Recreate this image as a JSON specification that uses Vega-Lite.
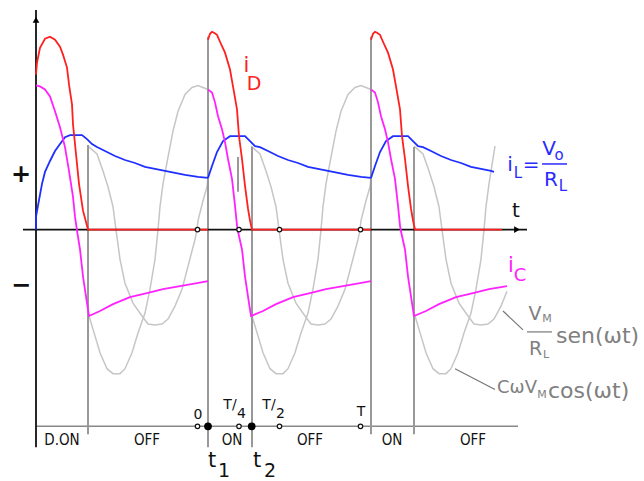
{
  "$schema": "https://vega.github.io/schema/vega-lite/v6.json",
  "width": 644,
  "height": 481,
  "padding": 0,
  "autosize": {"type": "fit", "contains": "padding"},
  "background": "white",
  "config": {"view": {"stroke": null}, "font": "DejaVu Sans", "text": {"font": "DejaVu Sans"}},
  "datasets": {
    "gray": [
      {"s":"sin1","t":52,"i":84},{"s":"sin1","t":61,"i":76},{"s":"sin1","t":67,"i":59},{"s":"sin1","t":72,"i":43},{"s":"sin1","t":77,"i":23},{"s":"sin1","t":80,"i":0},{"s":"sin1","t":84,"i":-30},{"s":"sin1","t":89,"i":-54},{"s":"sin1","t":97,"i":-74},{"s":"sin1","t":106,"i":-87},{"s":"sin1","t":112,"i":-95},{"s":"sin1","t":119,"i":-96},{"s":"sin1","t":126,"i":-95},{"s":"sin1","t":132,"i":-90},{"s":"sin1","t":139,"i":-77},{"s":"sin1","t":146,"i":-60},{"s":"sin1","t":152,"i":-37},{"s":"sin1","t":159,"i":-10},{"s":"sin1","t":161,"i":0},{"s":"sin1","t":162,"i":9},{"s":"sin1","t":167,"i":29},{"s":"sin1","t":171,"i":43},{"s":"sin1","t":172,"i":52},
      {"s":"sin2","t":215,"i":84},{"s":"sin2","t":224,"i":76},{"s":"sin2","t":230,"i":59},{"s":"sin2","t":235,"i":43},{"s":"sin2","t":240,"i":23},{"s":"sin2","t":243,"i":0},{"s":"sin2","t":247,"i":-30},{"s":"sin2","t":252,"i":-54},{"s":"sin2","t":260,"i":-74},{"s":"sin2","t":269,"i":-87},{"s":"sin2","t":275,"i":-95},{"s":"sin2","t":282,"i":-96},{"s":"sin2","t":289,"i":-95},{"s":"sin2","t":295,"i":-90},{"s":"sin2","t":302,"i":-77},{"s":"sin2","t":309,"i":-60},{"s":"sin2","t":315,"i":-37},{"s":"sin2","t":322,"i":-10},{"s":"sin2","t":324,"i":0},{"s":"sin2","t":325,"i":9},{"s":"sin2","t":330,"i":29},{"s":"sin2","t":334,"i":43},{"s":"sin2","t":335,"i":52},
      {"s":"sin3","t":378,"i":84},{"s":"sin3","t":387,"i":76},{"s":"sin3","t":393,"i":59},{"s":"sin3","t":398,"i":43},{"s":"sin3","t":403,"i":23},{"s":"sin3","t":406,"i":0},{"s":"sin3","t":410,"i":-30},{"s":"sin3","t":415,"i":-54},{"s":"sin3","t":423,"i":-74},{"s":"sin3","t":432,"i":-87},{"s":"sin3","t":438,"i":-95},{"s":"sin3","t":445,"i":-96},{"s":"sin3","t":452,"i":-95},{"s":"sin3","t":458,"i":-90},{"s":"sin3","t":465,"i":-77},{"s":"sin3","t":471,"i":-62},
      {"s":"cos1","t":53,"i":-87},{"s":"cos1","t":59,"i":-107},{"s":"cos1","t":64,"i":-124},{"s":"cos1","t":71,"i":-140},{"s":"cos1","t":77,"i":-145},{"s":"cos1","t":84,"i":-145},{"s":"cos1","t":89,"i":-140},{"s":"cos1","t":96,"i":-124},{"s":"cos1","t":102,"i":-104},{"s":"cos1","t":109,"i":-84},{"s":"cos1","t":114,"i":-60},{"s":"cos1","t":119,"i":-30},{"s":"cos1","t":122,"i":0},{"s":"cos1","t":124,"i":23},{"s":"cos1","t":127,"i":46},{"s":"cos1","t":132,"i":73},{"s":"cos1","t":137,"i":99},{"s":"cos1","t":142,"i":119},{"s":"cos1","t":149,"i":136},{"s":"cos1","t":156,"i":143},{"s":"cos1","t":162,"i":145},{"s":"cos1","t":167,"i":143},{"s":"cos1","t":172,"i":141},
      {"s":"cos2","t":216,"i":-87},{"s":"cos2","t":222,"i":-107},{"s":"cos2","t":227,"i":-124},{"s":"cos2","t":234,"i":-140},{"s":"cos2","t":240,"i":-145},{"s":"cos2","t":247,"i":-145},{"s":"cos2","t":252,"i":-140},{"s":"cos2","t":259,"i":-124},{"s":"cos2","t":265,"i":-104},{"s":"cos2","t":272,"i":-84},{"s":"cos2","t":277,"i":-60},{"s":"cos2","t":282,"i":-30},{"s":"cos2","t":285,"i":0},{"s":"cos2","t":287,"i":23},{"s":"cos2","t":290,"i":46},{"s":"cos2","t":295,"i":73},{"s":"cos2","t":300,"i":99},{"s":"cos2","t":305,"i":119},{"s":"cos2","t":312,"i":136},{"s":"cos2","t":319,"i":143},{"s":"cos2","t":325,"i":145},{"s":"cos2","t":330,"i":143},{"s":"cos2","t":335,"i":141},
      {"s":"cos3","t":379,"i":-87},{"s":"cos3","t":385,"i":-107},{"s":"cos3","t":390,"i":-124},{"s":"cos3","t":397,"i":-140},{"s":"cos3","t":403,"i":-145},{"s":"cos3","t":410,"i":-145},{"s":"cos3","t":415,"i":-140},{"s":"cos3","t":422,"i":-124},{"s":"cos3","t":428,"i":-104},{"s":"cos3","t":435,"i":-84},{"s":"cos3","t":440,"i":-60},{"s":"cos3","t":445,"i":-30},{"s":"cos3","t":448,"i":0},{"s":"cos3","t":450,"i":23},{"s":"cos3","t":453,"i":46},{"s":"cos3","t":459,"i":84}
    ],
    "red": [
      {"s":"r1","t":0,"i":156},{"s":"r1","t":1,"i":168},{"s":"r1","t":4,"i":183},{"s":"r1","t":9,"i":192},{"s":"r1","t":14,"i":194},{"s":"r1","t":19,"i":191},{"s":"r1","t":24,"i":184},{"s":"r1","t":27,"i":176},{"s":"r1","t":31,"i":163},{"s":"r1","t":33,"i":146},{"s":"r1","t":36,"i":126},{"s":"r1","t":37,"i":106},{"s":"r1","t":40,"i":76},{"s":"r1","t":43,"i":46},{"s":"r1","t":47,"i":19},{"s":"r1","t":52,"i":0},{"s":"r1","t":172,"i":0},
      {"s":"r2","t":172,"i":191},{"s":"r2","t":174,"i":197},{"s":"r2","t":176,"i":199},{"s":"r2","t":178,"i":198},{"s":"r2","t":181,"i":196},{"s":"r2","t":184,"i":189},{"s":"r2","t":189,"i":178},{"s":"r2","t":194,"i":161},{"s":"r2","t":197,"i":144},{"s":"r2","t":201,"i":121},{"s":"r2","t":203,"i":94},{"s":"r2","t":206,"i":71},{"s":"r2","t":209,"i":44},{"s":"r2","t":212,"i":21},{"s":"r2","t":214,"i":9},{"s":"r2","t":216,"i":0},{"s":"r2","t":335,"i":0},
      {"s":"r3","t":335,"i":191},{"s":"r3","t":337,"i":197},{"s":"r3","t":339,"i":199},{"s":"r3","t":341,"i":198},{"s":"r3","t":344,"i":196},{"s":"r3","t":347,"i":189},{"s":"r3","t":352,"i":178},{"s":"r3","t":357,"i":161},{"s":"r3","t":360,"i":144},{"s":"r3","t":364,"i":121},{"s":"r3","t":366,"i":94},{"s":"r3","t":369,"i":71},{"s":"r3","t":372,"i":44},{"s":"r3","t":375,"i":21},{"s":"r3","t":377,"i":9},{"s":"r3","t":379,"i":0},{"s":"r3","t":466,"i":0}
    ],
    "magenta": [
      {"s":"m1","t":0,"i":145},{"s":"m1","t":4,"i":144},{"s":"m1","t":9,"i":141},{"s":"m1","t":14,"i":134},{"s":"m1","t":19,"i":119},{"s":"m1","t":24,"i":103},{"s":"m1","t":29,"i":83},{"s":"m1","t":33,"i":59},{"s":"m1","t":37,"i":33},{"s":"m1","t":39,"i":13},{"s":"m1","t":41,"i":-1},{"s":"m1","t":44,"i":-20},{"s":"m1","t":47,"i":-47},{"s":"m1","t":51,"i":-74},{"s":"m1","t":53,"i":-87},{"s":"m1","t":64,"i":-82},{"s":"m1","t":77,"i":-75},{"s":"m1","t":94,"i":-68},{"s":"m1","t":111,"i":-64},{"s":"m1","t":127,"i":-60},{"s":"m1","t":144,"i":-57},{"s":"m1","t":161,"i":-54},{"s":"m1","t":172,"i":-52},
      {"s":"m2","t":172,"i":141},{"s":"m2","t":176,"i":138},{"s":"m2","t":179,"i":128},{"s":"m2","t":182,"i":114},{"s":"m2","t":186,"i":101},{"s":"m2","t":189,"i":88},{"s":"m2","t":192,"i":71},{"s":"m2","t":196,"i":51},{"s":"m2","t":199,"i":24},{"s":"m2","t":201,"i":4},{"s":"m2","t":202,"i":-2},{"s":"m2","t":206,"i":-20},{"s":"m2","t":209,"i":-47},{"s":"m2","t":213,"i":-74},{"s":"m2","t":215,"i":-87},{"s":"m2","t":227,"i":-82},{"s":"m2","t":240,"i":-75},{"s":"m2","t":257,"i":-68},{"s":"m2","t":274,"i":-64},{"s":"m2","t":290,"i":-60},{"s":"m2","t":307,"i":-57},{"s":"m2","t":324,"i":-54},{"s":"m2","t":335,"i":-52},
      {"s":"m3","t":335,"i":141},{"s":"m3","t":339,"i":138},{"s":"m3","t":342,"i":128},{"s":"m3","t":345,"i":114},{"s":"m3","t":349,"i":101},{"s":"m3","t":352,"i":88},{"s":"m3","t":355,"i":71},{"s":"m3","t":359,"i":51},{"s":"m3","t":362,"i":24},{"s":"m3","t":364,"i":4},{"s":"m3","t":365,"i":-2},{"s":"m3","t":369,"i":-20},{"s":"m3","t":372,"i":-47},{"s":"m3","t":376,"i":-74},{"s":"m3","t":378,"i":-87},{"s":"m3","t":390,"i":-82},{"s":"m3","t":403,"i":-75},{"s":"m3","t":420,"i":-68},{"s":"m3","t":437,"i":-64},{"s":"m3","t":453,"i":-60},{"s":"m3","t":471,"i":-57}
    ],
    "blue": [
      {"s":"b1","t":0,"i":0},{"s":"b1","t":0,"i":13},{"s":"b1","t":2,"i":24},{"s":"b1","t":6,"i":46},{"s":"b1","t":9,"i":58},{"s":"b1","t":14,"i":69},{"s":"b1","t":19,"i":79},{"s":"b1","t":24,"i":86},{"s":"b1","t":29,"i":93},{"s":"b1","t":34,"i":95},{"s":"b1","t":46,"i":95},{"s":"b1","t":51,"i":91},{"s":"b1","t":56,"i":86},{"s":"b1","t":61,"i":83},{"s":"b1","t":69,"i":79},{"s":"b1","t":79,"i":74},{"s":"b1","t":89,"i":70},{"s":"b1","t":99,"i":67},{"s":"b1","t":109,"i":63},{"s":"b1","t":119,"i":61},{"s":"b1","t":129,"i":59},{"s":"b1","t":139,"i":57},{"s":"b1","t":149,"i":55},{"s":"b1","t":162,"i":53},{"s":"b1","t":172,"i":52},
      {"s":"b2","t":172,"i":52},{"s":"b2","t":176,"i":64},{"s":"b2","t":181,"i":78},{"s":"b2","t":187,"i":89},{"s":"b2","t":194,"i":94},{"s":"b2","t":209,"i":94},{"s":"b2","t":214,"i":89},{"s":"b2","t":219,"i":84},{"s":"b2","t":224,"i":83},{"s":"b2","t":232,"i":79},{"s":"b2","t":242,"i":74},{"s":"b2","t":252,"i":70},{"s":"b2","t":262,"i":67},{"s":"b2","t":272,"i":63},{"s":"b2","t":282,"i":61},{"s":"b2","t":292,"i":59},{"s":"b2","t":302,"i":57},{"s":"b2","t":312,"i":55},{"s":"b2","t":325,"i":53},{"s":"b2","t":335,"i":52},
      {"s":"b3","t":335,"i":52},{"s":"b3","t":339,"i":64},{"s":"b3","t":344,"i":78},{"s":"b3","t":350,"i":89},{"s":"b3","t":357,"i":94},{"s":"b3","t":372,"i":94},{"s":"b3","t":377,"i":89},{"s":"b3","t":382,"i":84},{"s":"b3","t":387,"i":83},{"s":"b3","t":395,"i":79},{"s":"b3","t":405,"i":74},{"s":"b3","t":415,"i":70},{"s":"b3","t":425,"i":67},{"s":"b3","t":435,"i":63},{"s":"b3","t":445,"i":61},{"s":"b3","t":455,"i":59},{"s":"b3","t":458,"i":58}
    ],
    "vlines": [
      {"t":52,"i":85,"i2":-206},{"t":172,"i":194,"i2":-219},{"t":216,"i":83,"i2":-219},{"t":335,"i":194,"i2":-206},{"t":378,"i":83,"i2":-206},{"t":202,"i":73,"i2":38}
    ],
    "axes": [
      {"t":0,"t2":0,"i":221,"i2":-219},{"t":-13,"t2":491,"i":0,"i2":0}
    ],
    "timeline": [{"t":0,"t2":482,"i":-198,"i2":-198}],
    "leaders": [
      {"t":467,"t2":487,"i":-82,"i2":-101},{"t":419,"t2":459,"i":-140,"i2":-161},{"t":491,"t2":516,"i":-103,"i2":-103}
    ],
    "bluebar": [{"t":506,"t2":531,"i":66,"i2":66}],
    "open": [
      {"t":161.5,"i":0},{"t":203,"i":0},{"t":243.5,"i":0},{"t":324.5,"i":0},
      {"t":161.5,"i":-198},{"t":203,"i":-198},{"t":243.5,"i":-198},{"t":324.5,"i":-198}
    ],
    "events": [{"t":172,"i":-198},{"t":215.7,"i":-198}],
    "uparrow": [{"t":0,"i":211}],
    "rightarrow": [{"t":481,"i":0}],
    "states": [
      {"t":26,"i":-212,"label":"D.ON"},{"t":111,"i":-212,"label":"OFF"},{"t":196,"i":-212,"label":"ON"},{"t":274,"i":-212,"label":"OFF"},{"t":356,"i":-212,"label":"ON"},{"t":437,"i":-212,"label":"OFF"}
    ],
    "ticks": [
      {"t":162,"i":-187,"label":"0"},{"t":194,"i":-177,"label":"T/"},{"t":205.5,"i":-186,"label":"4"},{"t":233,"i":-177,"label":"T/"},{"t":244.5,"i":-186,"label":"2"},{"t":325,"i":-184,"label":"T"}
    ],
    "tbig": [{"t":176,"i":-239,"label":"t"},{"t":221,"i":-239,"label":"t"}],
    "tsub": [{"t":188,"i":-249,"label":"1"},{"t":234,"i":-249,"label":"2"}],
    "taxis": [{"t":480,"i":19,"label":"t"}],
    "signs": [{"t":-15,"i":55,"label":"+"},{"t":-15,"i":-57,"label":"−"}],
    "redbig": [{"t":210.5,"i":164.5,"label":"i"}],
    "redsub": [{"t":218,"i":146.5,"label":"D"}],
    "bluebig": [{"t":474,"i":65,"label":"i"},{"t":495,"i":65,"label":"="},{"t":513,"i":81,"label":"V"},{"t":515,"i":50,"label":"R"}],
    "bluesub": [{"t":482,"i":57,"label":"L"},{"t":523,"i":75,"label":"o"},{"t":527,"i":44,"label":"L"}],
    "magbig": [{"t":475,"i":-37,"label":"i"}],
    "magsub": [{"t":484,"i":-47,"label":"C"}],
    "graybig": [{"t":499,"i":-84.5,"label":"V"},{"t":499.5,"i":-120.5,"label":"R"}],
    "graysub": [{"t":511,"i":-90.5,"label":"M"},{"t":510,"i":-126,"label":"L"},{"t":506,"i":-166,"label":"M"}],
    "grayleft": [{"t":461,"i":-159,"label":"CωV"}],
    "grayfun": [{"t":520,"i":-107,"label":"sen(ωt)"},{"t":512,"i":-162,"label":"cos(ωt)"}]
  },
  "encoding": {
    "x": {"field": "t", "type": "quantitative", "scale": {"domain": [-36, 608], "nice": false, "zero": false}, "axis": null},
    "y": {"field": "i", "type": "quantitative", "scale": {"domain": [-250, 231], "nice": false, "zero": false}, "axis": null}
  },
  "layer": [
    {"data": {"name": "gray"}, "mark": {"type": "line", "color": "#c6c6c6", "strokeWidth": 1.5}, "encoding": {"detail": {"field": "s"}}},
    {"data": {"name": "timeline"}, "mark": {"type": "rule", "color": "#888888", "strokeWidth": 1.5}, "encoding": {"x2": {"field": "t2"}, "y2": {"field": "i2"}}},
    {"data": {"name": "vlines"}, "mark": {"type": "rule", "color": "#999999", "strokeWidth": 2}, "encoding": {"y2": {"field": "i2"}}},
    {"data": {"name": "axes"}, "mark": {"type": "rule", "color": "#111111", "strokeWidth": 1.8}, "encoding": {"x2": {"field": "t2"}, "y2": {"field": "i2"}}},
    {"data": {"name": "leaders"}, "mark": {"type": "rule", "color": "#777777", "strokeWidth": 1.2}, "encoding": {"x2": {"field": "t2"}, "y2": {"field": "i2"}}},
    {"data": {"name": "bluebar"}, "mark": {"type": "rule", "color": "#2a2aff", "strokeWidth": 1.5}, "encoding": {"x2": {"field": "t2"}, "y2": {"field": "i2"}}},
    {"data": {"name": "blue"}, "mark": {"type": "line", "color": "#1f2fff", "strokeWidth": 1.8}, "encoding": {"detail": {"field": "s"}}},
    {"data": {"name": "magenta"}, "mark": {"type": "line", "color": "#ff22ff", "strokeWidth": 1.8}, "encoding": {"detail": {"field": "s"}}},
    {"data": {"name": "red"}, "mark": {"type": "line", "color": "#ff2020", "strokeWidth": 1.8}, "encoding": {"detail": {"field": "s"}}},
    {"data": {"name": "open"}, "mark": {"type": "point", "shape": "circle", "filled": true, "fill": "white", "stroke": "#111111", "strokeWidth": 1.2, "size": 20, "opacity": 1}},
    {"data": {"name": "events"}, "mark": {"type": "point", "shape": "circle", "filled": true, "color": "black", "size": 60, "opacity": 1}},
    {"data": {"name": "uparrow"}, "mark": {"type": "point", "shape": "triangle-up", "filled": true, "color": "black", "size": 45, "opacity": 1}},
    {"data": {"name": "rightarrow"}, "mark": {"type": "point", "shape": "triangle-right", "filled": true, "color": "black", "size": 45, "opacity": 1}},
    {"data": {"name": "states"}, "mark": {"type": "text", "font": "DejaVu Sans Condensed", "fontSize": 15, "color": "#111111", "baseline": "middle", "align": "center"}, "encoding": {"text": {"field": "label"}}},
    {"data": {"name": "ticks"}, "mark": {"type": "text", "fontSize": 14, "color": "#111111", "baseline": "middle", "align": "center"}, "encoding": {"text": {"field": "label"}}},
    {"data": {"name": "tbig"}, "mark": {"type": "text", "fontSize": 21, "color": "#111111", "baseline": "alphabetic", "align": "center"}, "encoding": {"text": {"field": "label"}}},
    {"data": {"name": "tsub"}, "mark": {"type": "text", "fontSize": 19, "color": "#111111", "baseline": "alphabetic", "align": "center"}, "encoding": {"text": {"field": "label"}}},
    {"data": {"name": "taxis"}, "mark": {"type": "text", "fontSize": 20, "color": "#111111", "baseline": "middle", "align": "center"}, "encoding": {"text": {"field": "label"}}},
    {"data": {"name": "signs"}, "mark": {"type": "text", "fontSize": 24, "fontWeight": "bold", "color": "#111111", "baseline": "middle", "align": "center"}, "encoding": {"text": {"field": "label"}}},
    {"data": {"name": "redbig"}, "mark": {"type": "text", "fontSize": 21, "color": "#ff2020", "baseline": "middle", "align": "center"}, "encoding": {"text": {"field": "label"}}},
    {"data": {"name": "redsub"}, "mark": {"type": "text", "fontSize": 19, "color": "#ff2020", "baseline": "middle", "align": "center"}, "encoding": {"text": {"field": "label"}}},
    {"data": {"name": "bluebig"}, "mark": {"type": "text", "fontSize": 20, "color": "#2a2aff", "baseline": "middle", "align": "center"}, "encoding": {"text": {"field": "label"}}},
    {"data": {"name": "bluesub"}, "mark": {"type": "text", "fontSize": 15, "color": "#2a2aff", "baseline": "middle", "align": "center"}, "encoding": {"text": {"field": "label"}}},
    {"data": {"name": "magbig"}, "mark": {"type": "text", "fontSize": 21, "color": "#ff22ff", "baseline": "middle", "align": "center"}, "encoding": {"text": {"field": "label"}}},
    {"data": {"name": "magsub"}, "mark": {"type": "text", "fontSize": 18, "color": "#ff22ff", "baseline": "middle", "align": "center"}, "encoding": {"text": {"field": "label"}}},
    {"data": {"name": "graybig"}, "mark": {"type": "text", "fontSize": 19, "color": "#808080", "baseline": "middle", "align": "center"}, "encoding": {"text": {"field": "label"}}},
    {"data": {"name": "graysub"}, "mark": {"type": "text", "fontSize": 11, "color": "#808080", "baseline": "middle", "align": "center"}, "encoding": {"text": {"field": "label"}}},
    {"data": {"name": "grayleft"}, "mark": {"type": "text", "fontSize": 18, "color": "#808080", "baseline": "middle", "align": "left"}, "encoding": {"text": {"field": "label"}}},
    {"data": {"name": "grayfun"}, "mark": {"type": "text", "fontSize": 22, "color": "#808080", "baseline": "middle", "align": "left"}, "encoding": {"text": {"field": "label"}}}
  ]
}
